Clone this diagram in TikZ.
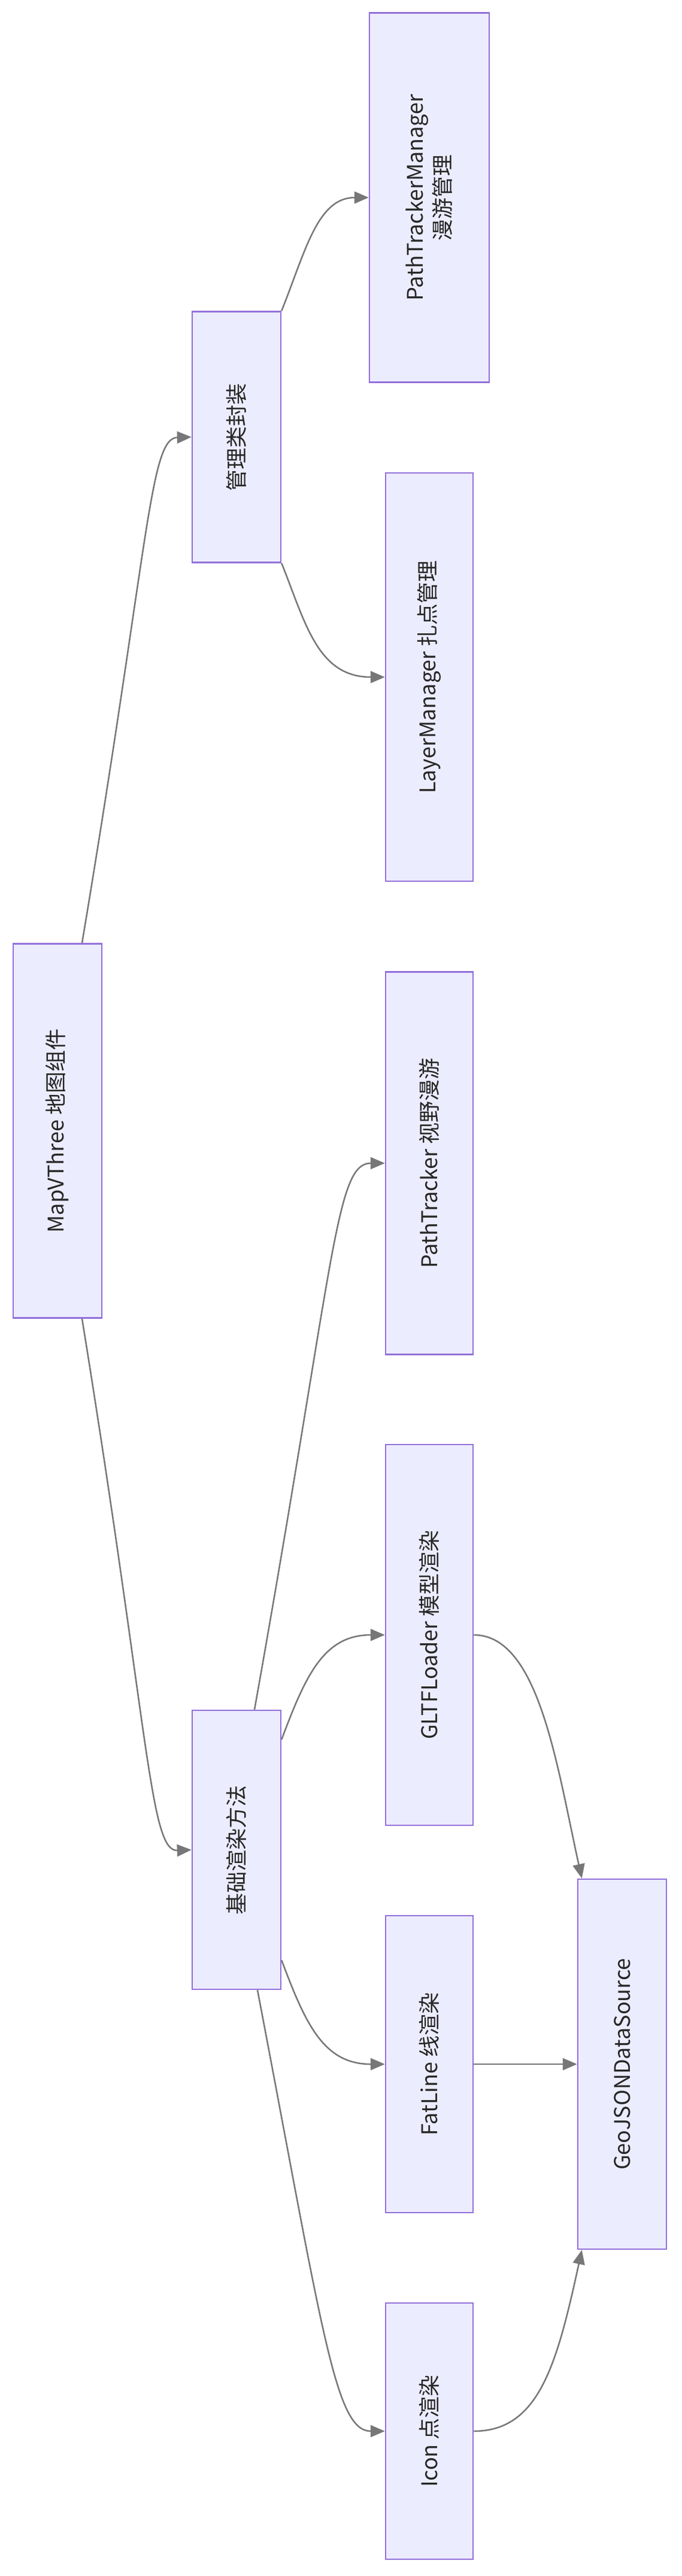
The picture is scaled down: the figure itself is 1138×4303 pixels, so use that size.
\documentclass[tikz,border=0pt]{standalone}
\usepackage{fontspec}
\setmainfont{Noto Sans CJK SC}
\usetikzlibrary{calc,arrows.meta}
\begin{document}
\begin{tikzpicture}[x=1pt,y=-1pt,
  box/.style={draw=mpurple,fill=mfill,line width=2.5pt,inner sep=0pt},
  lbl/.style={rotate=90,font=\fontsize{36}{46}\selectfont,align=center,text=black!85},
  edge/.style={draw=mgray,line width=2.5pt,-{Triangle[length=24pt,width=20pt]}}]
\definecolor{mpurple}{HTML}{9370DB}
\definecolor{mfill}{HTML}{ECECFF}
\definecolor{mgray}{HTML}{777777}
\useasboundingbox[fill=white] (0,0) rectangle (1138,4303);
\node[box,minimum width=148,minimum height=625] (m) at (96,1889) {};
\node[lbl] at (m) {MapVThree 地图组件};
\node[box,minimum width=148,minimum height=419] (g) at (395,730) {};
\node[lbl] at (g) {管理类封装};
\node[box,minimum width=148,minimum height=466] (j) at (395,3090) {};
\node[lbl] at (j) {基础渲染方法};
\node[box,minimum width=200,minimum height=617] (ptm) at (717,330) {};
\node[lbl] at (ptm) {PathTrackerManager\\漫游管理};
\node[box,minimum width=146,minimum height=682] (lm) at (717,1131) {};
\node[lbl] at (lm) {LayerManager 扎点管理};
\node[box,minimum width=146,minimum height=639] (pt) at (717,1943) {};
\node[lbl] at (pt) {PathTracker 视野漫游};
\node[box,minimum width=146,minimum height=636] (gl) at (717,2731) {};
\node[lbl] at (gl) {GLTFLoader 模型渲染};
\node[box,minimum width=146,minimum height=496] (fl) at (717,3448) {};
\node[lbl] at (fl) {FatLine 线渲染};
\node[box,minimum width=146,minimum height=428] (ic) at (717,4061) {};
\node[lbl] at (ic) {Icon 点渲染};
\node[box,minimum width=148,minimum height=618] (geo) at (1039,3448) {};
\node[lbl] at (geo) {GeoJSONDataSource};
\draw[edge] ($(m.north)+(41,0)$) .. controls (250,900) and (250,732) .. (g.west);
\draw[edge] ($(m.south)+(41,0)$) .. controls (250,2900) and (250,3093) .. (j.west);
\draw[edge] ($(g.north east)$) .. controls (510,420) and (530,330) .. (ptm.west);
\draw[edge] ($(g.south east)$) .. controls (510,1040) and (530,1131) .. (lm.west);
\draw[edge] ($(j.north)+(30,0)$) .. controls (560,2100) and (560,1943) .. (pt.west);
\draw[edge] ($(j.north east)+(0,50)$) .. controls (510,2800) and (540,2731) .. (gl.west);
\draw[edge] ($(j.south east)+(0,-50)$) .. controls (510,3380) and (540,3448) .. (fl.west);
\draw[edge] ($(j.south)+(35,0)$) .. controls (540,3900) and (560,4061) .. (ic.west);
\draw[edge] (gl.east) .. controls (900,2731) and (930,2950) .. ($(geo.north west)+(8,0)$);
\draw[edge] (fl.east) -- (geo.west);
\draw[edge] (ic.east) .. controls (900,4061) and (930,3950) .. ($(geo.south west)+(8,0)$);
\end{tikzpicture}
\end{document}
